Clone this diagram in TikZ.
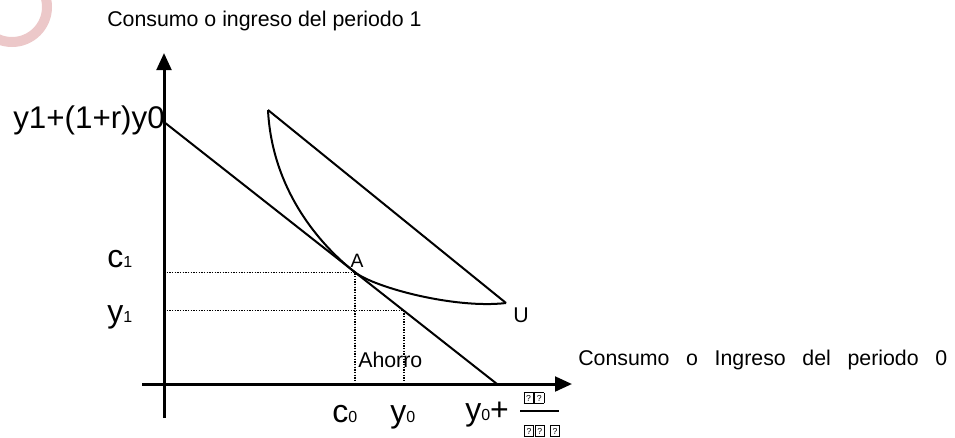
\documentclass[tikz,border=0pt]{standalone}
\usepackage{fontspec}
\setmainfont{Liberation Sans}
\usetikzlibrary{arrows.meta}
\definecolor{logopink}{RGB}{236,200,201}
\newcommand{\qbox}{{\fboxsep=0.6pt\fboxrule=0.45pt\fbox{\makebox[5.4pt]{\rule[-0.6pt]{0pt}{6.4pt}\fontsize{6.5pt}{7pt}\selectfont ?}}}}

\begin{document}
\begin{tikzpicture}[
			x=0.75pt, y=-0.75pt,
			axis/.style={line width=2.25pt, -{Triangle[length=12.75pt, width=11pt]}},
			budget/.style={line width=1.5pt},
			guide/.style={line width=0.9pt, dash pattern=on 0.9pt off 1.1pt},
			lbl/.style={inner sep=0pt, font=\fontsize{16pt}{18pt}\selectfont},
			big/.style={inner sep=0pt, font=\fontsize{24pt}{28pt}\selectfont}
			]
			
			\useasboundingbox (0,0) rectangle (955,437);
			\begin{scope}
				\clip (0,0) rectangle (955,437);
				\draw[logopink, line width=7.5pt] (12,7) circle (35);
			\end{scope}
			
			\coordinate (O) at (164,384);
			\coordinate (ytop) at (164,53);
			\coordinate (ybot) at (164,418);
			\coordinate (xleft) at (142,384);
			\coordinate (xright) at (572,384);
			\draw[axis] (ybot) -- (ytop);
			\draw[axis] (xleft) -- (xright);
			
			\node[lbl, anchor=west] (ytitle) at (107,21) {Consumo o ingreso del periodo 1};
			\node[lbl, anchor=west] (xtitle) at (578,360) {\makebox[276.75pt][s]{Consumo o Ingreso del periodo 0}};
			
			\coordinate (B0) at (164,122);
			\coordinate (B1) at (497,384);
			\coordinate (pA) at (355,272.3);
			\coordinate (pE) at (404,310.8);
			\draw[budget] (B0) -- (B1);
			
			\coordinate (U0) at (268,110);
			\coordinate (U1) at (506,303);
			\draw[budget] (U0) -- (U1);
			\draw[budget] (U0) .. controls (272,190) and (320,245) .. (pA)
				.. controls (375,287.7) and (455,309) .. (U1);
			
			\draw[guide] (O |- pA) -- (pA) -- (pA |- O);
			\draw[guide] (O |- pE) -- (pE) -- (pE |- O);
			
			\node[lbl, font=\fontsize{14.5pt}{16pt}\selectfont, anchor=base] (A) at (357,267) {A};
			\node[lbl, anchor=base] (U) at (521,322) {U};
			\node[lbl, anchor=base west] (ahorro) at (358,367) {Ahorro};
			
			\node[big, font=\fontsize{23.5pt}{28pt}\selectfont, anchor=base west] (ymax) at (13,128) {y1+(1+r)y0};
			\node[big, anchor=base west] (c1) at (107,267) {c{\fontsize{12pt}{14pt}\selectfont 1}};
			\node[big, anchor=base west] (y1) at (107,322) {y{\fontsize{12pt}{14pt}\selectfont 1}};
			\node[big, anchor=base west] (c0) at (332,422) {c{\fontsize{12pt}{14pt}\selectfont 0}};
			\node[big, anchor=base west] (y0) at (390,422) {y{\fontsize{12pt}{14pt}\selectfont 0}};
			\node[big, anchor=base west] (xmax) at (465,420) {y{\fontsize{12pt}{14pt}\selectfont 0}+};
			
			\coordinate (f0) at (520,411);
			\coordinate (f1) at (559,411);
			\draw[budget] (f0) -- (f1);
			\node[inner sep=0pt] (num) at (534,398) {\qbox\hspace{0.6pt}\qbox};
			\node[inner sep=0pt] (den) at (542,431) {\qbox\hspace{0.6pt}\qbox\hspace{4pt}\qbox};
			
		\end{tikzpicture}
\end{document}
